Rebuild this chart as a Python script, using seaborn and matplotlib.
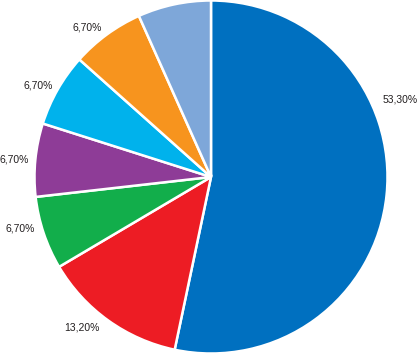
import numpy as np
import seaborn as sns
import matplotlib
matplotlib.use("Agg")
import matplotlib.pyplot as plt

# slice data, clockwise from 12 o'clock
shares = [53.3, 13.2, 6.7, 6.7, 6.7, 6.7, 6.7]
labels = ["53,30%", "13,20%", "6,70%", "6,70%", "6,70%", "6,70%", ""]
colors = ["#0070c0", "#ed1c24", "#12ae4b", "#8e3c97", "#00b2ec", "#f7941e", "#7ea7d9"]

# where each label sits: angle clockwise from top (deg) and distance in radii
label_angle = [67.8, 220.5, 254.8, 275.0, 298.0, 320.2, 0.0]
label_dist = [1.16, 1.125, 1.12, 1.12, 1.11, 1.10, 0.0]

sns.set_theme(style="white")
plt.rcParams["font.family"] = ["Liberation Sans", "DejaVu Sans"]

fig = plt.figure(figsize=(4.18, 3.54), dpi=100)
# pie centre at (211, 177) px, radius ~176.5 px
r = 176.5
ax = fig.add_axes([(211 - r) / 418, (354 - 177 - r) / 354, 2 * r / 418, 2 * r / 354])
ax.pie(shares, colors=sns.color_palette(colors), startangle=90, counterclock=False,
       radius=1.0, wedgeprops=dict(edgecolor="white", linewidth=1.8))
ax.set_xlim(-1, 1)
ax.set_ylim(-1, 1)
ax.set_aspect("auto")
ax.axis("off")

for lab, ang, d in zip(labels, label_angle, label_dist):
    if not lab:
        continue
    t = np.deg2rad(ang)
    ax.text(d * np.sin(t), d * np.cos(t), lab, ha="center", va="center",
            fontsize=7.5, color="#231f20", clip_on=False)

fig.savefig("out.png", dpi=100)
